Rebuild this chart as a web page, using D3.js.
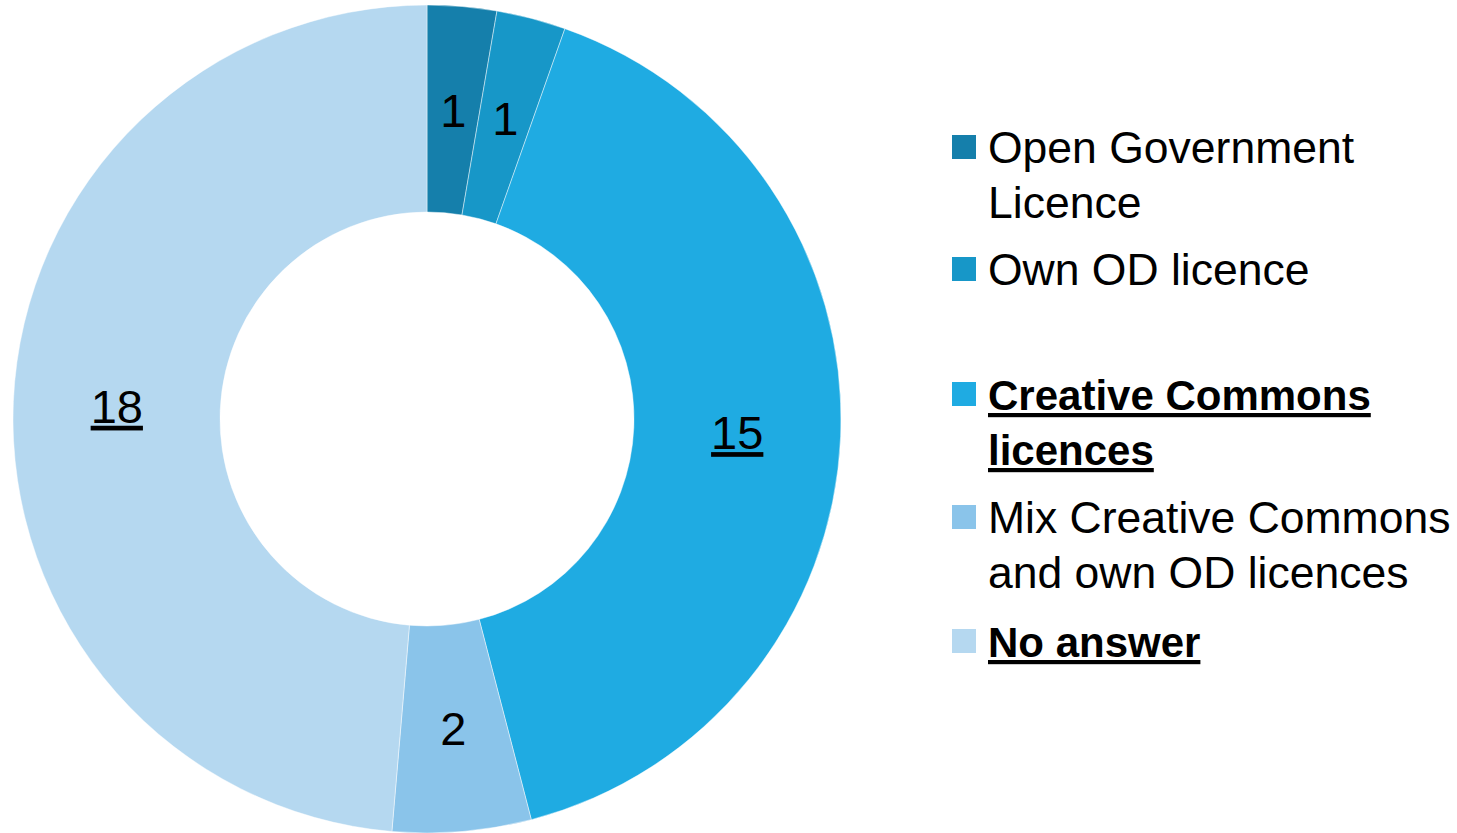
<!DOCTYPE html>
<html>
<head>
<meta charset="utf-8">
<script src="https://cdn.jsdelivr.net/npm/d3@7"></script>
<style>
  html, body { margin: 0; padding: 0; background: #fff; }
  svg text { font-family: "Liberation Sans", Arial, sans-serif; fill: #000; }
</style>
</head>
<body>
<svg id="chart" width="1457" height="833"></svg>
<script>
// data
const categories = [
  "Open Government Licence",
  "Own OD licence",
  "Creative Commons licences",
  "Mix Creative Commons and own OD licences",
  "No answer"
];
const values = [1, 1, 15, 2, 18];
const colors = ["#157fab", "#1797c8", "#1fabe2", "#8ac4ea", "#b5d8f0"];
// legend lines (wrapped as in the original) and which ones are emphasised
const legendLines = [
  ["Open Government", "Licence"],
  ["Own OD licence"],
  ["Creative Commons", "licences"],
  ["Mix Creative Commons", "and own OD licences"],
  ["No answer"]
];
const emphasised = [false, false, true, false, true];
const underlinedLabels = [false, false, true, false, true];

const svg = d3.select('#chart');

const cx = 427, cy = 419, outerR = 414, innerR = 207;

const pie = d3.pie().sort(null).value(d => d);
const arc = d3.arc().innerRadius(innerR).outerRadius(outerR);
const labelArc = d3.arc().innerRadius((innerR + outerR) / 2).outerRadius((innerR + outerR) / 2);

const g = svg.append('g').attr('transform', `translate(${cx},${cy})`);
const arcs = pie(values);

g.selectAll('path')
  .data(arcs)
  .enter()
  .append('path')
  .attr('d', arc)
  .attr('fill', (d, i) => colors[i])
  .attr('stroke', 'rgba(255,255,255,0.45)')
  .attr('stroke-width', 1);

// value labels
g.selectAll('text.val')
  .data(arcs)
  .enter()
  .append('text')
  .attr('class', 'val')
  .attr('x', d => labelArc.centroid(d)[0])
  .attr('y', d => labelArc.centroid(d)[1])
  .attr('dy', '0.36em')
  .attr('text-anchor', 'middle')
  .attr('font-size', 47)
  .attr('text-decoration', (d, i) => underlinedLabels[i] ? 'underline' : null)
  .text(d => d.data);

// legend
const legendX = 952, textX = 988;
const firstBaseline = [163, 285, 410, 533, 657];
const lineH = 55;

const leg = svg.append('g');
categories.forEach((c, i) => {
  const base = firstBaseline[i];
  leg.append('rect')
    .attr('x', legendX)
    .attr('y', base - 28)
    .attr('width', 24)
    .attr('height', 24)
    .attr('fill', colors[i]);
  const t = leg.append('text')
    .attr('x', textX)
    .attr('y', base)
    .attr('font-size', emphasised[i] ? 42 : 44.5)
    .attr('font-weight', emphasised[i] ? 'bold' : 'normal')
    .attr('text-decoration', emphasised[i] ? 'underline' : null);
  legendLines[i].forEach((line, j) => {
    t.append('tspan')
      .attr('x', textX)
      .attr('y', base + j * lineH)
      .text(line);
  });
});
</script>
</body>
</html>
